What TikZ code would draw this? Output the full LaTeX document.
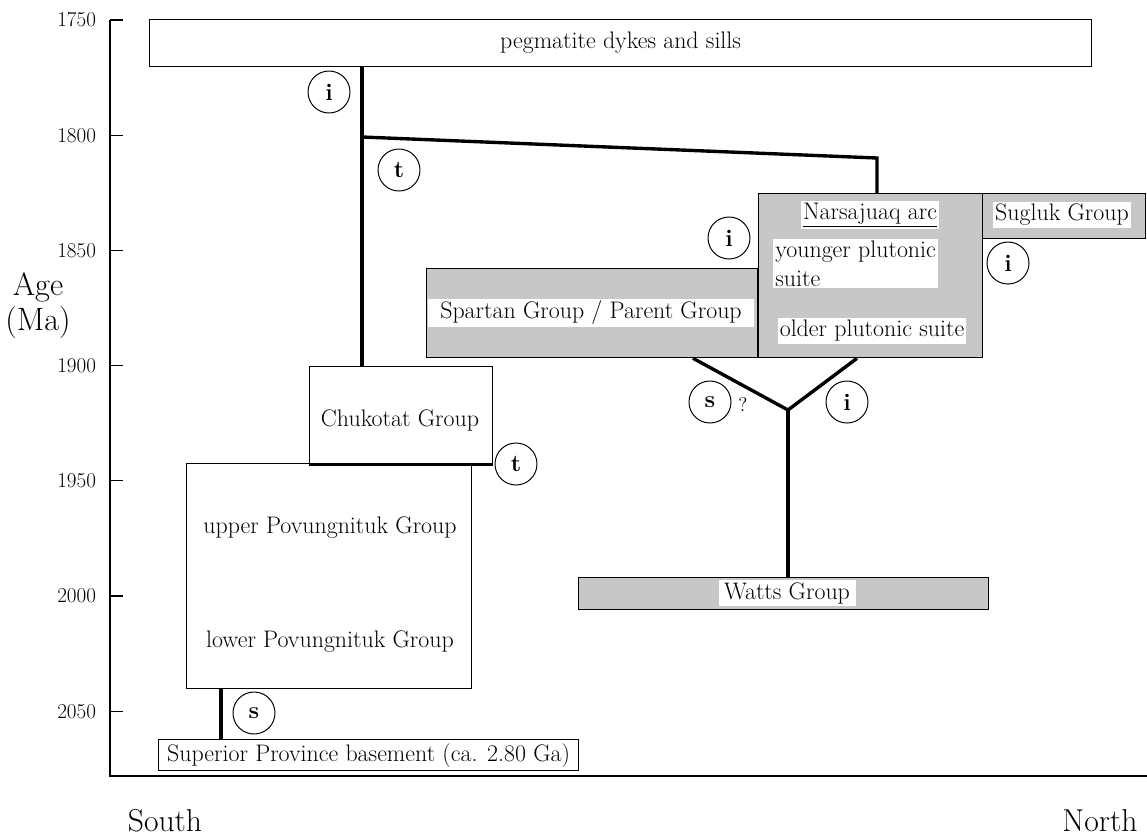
\documentclass[tikz,border=0pt]{standalone}
\usepackage{fontspec}
\usepackage{tikz}
\usetikzlibrary{
    calc,
    positioning
}
\definecolor{boxgray}{gray}{0.78}
\newcommand{\pxu}{0.025cm}

\begin{document}
\begin{tikzpicture}[x=\pxu, y=-\pxu,
    every node/.style={font=\fontsize{17}{20}\selectfont},
    thinline/.style={line width=0.9pt},
    thickline/.style={line width=2.4pt},
    unit/.style={draw, thinline, inner sep=0pt, anchor=north west},
    grayunit/.style={unit, fill=boxgray},
    band/.style={fill=white, inner sep=1.5pt},
    proc/.style={circle, draw, line width=0.7pt, minimum size=42*\pxu, inner sep=0pt,
                 font=\fontsize{17}{17}\selectfont\bfseries},
    ticklab/.style={anchor=east, font=\fontsize{15}{18}\selectfont},
    dirlab/.style={anchor=base, inner sep=0pt, font=\fontsize{22.5}{24}\selectfont}]
\useasboundingbox (0,0) rectangle (1147,837);

% Age axis
\coordinate (atop) at (110,20);
\coordinate (aorig) at (110,776);
\coordinate (aend) at (1147,776);
\draw[thinline] (atop) -- (aorig) -- (aend);
\foreach \k/\age in {0/1750,1/1800,2/1850,3/1900,4/1950,5/2000,6/2050} {
    \draw[thinline] (110,20+115.2*\k) -- (123,20+115.2*\k);
    \node[ticklab] (tick\age) at (101,20+115.2*\k) {\age};
}
\node[align=center, font=\fontsize{23}{25}\selectfont] (agelab) at (38,306) {Age\\(Ma)};
\node[dirlab] (south) at (165,831) {South};
\node[dirlab] (north) at (1100,831) {North};

% Units
\node[unit, minimum width=942*\pxu, minimum height=47*\pxu] (peg) at (149,19) {pegmatite dykes and sills};
\node[unit, minimum width=183*\pxu, minimum height=97*\pxu] (chuk) at (309,366) {};
\node (chuktxt) at (400,420) {Chukotat Group};
\node[unit, minimum width=285*\pxu, minimum height=225*\pxu] (pov) at (186,463) {};
\node (upov) at (330,528) {upper Povungnituk Group};
\node (lpov) at (330,642) {lower Povungnituk Group};
\node[unit, minimum width=420*\pxu, minimum height=31*\pxu] (base) at (158,739) {Superior Province basement (ca. 2.80 Ga)};

\node[grayunit, minimum width=331*\pxu, minimum height=89*\pxu] (spart) at (426,268) {};
\node[band, minimum width=326*\pxu, minimum height=27*\pxu] (sparttxt) at (591,313) {Spartan Group / Parent Group};
\node[grayunit, minimum width=224*\pxu, minimum height=164*\pxu] (nars) at (758,193) {};
\node[band] (narstxt) at (870,215) {\underline{Narsajuaq arc}};
\node[band, anchor=north west, align=left] (young) at (773,239) {younger plutonic\\suite};
\node[band] (older) at (872,331) {older plutonic suite};
\node[grayunit, minimum width=163*\pxu, minimum height=45*\pxu] (sug) at (982,193) {};
\node[band] (sugtxt) at (1062,215) {Sugluk Group};
\node[grayunit, minimum width=410*\pxu, minimum height=32*\pxu] (watts) at (578,577) {};
\node[band, minimum width=137*\pxu] (wattstxt) at (787,593) {Watts Group};

% Contacts
\coordinate (vx) at (362,0);
\coordinate (sA) at (362,137);
\coordinate (sB) at (877,158);
\coordinate (bx) at (221,0);
\coordinate (yL) at (693,0);
\coordinate (yR) at (857,0);
\coordinate (yjoin) at (788,410);
\draw[thickline] (peg.south -| vx) -- (chuk.north -| vx);
\draw[thickline] (sA) -- (sB) -- (sB |- nars.north);
\draw[thickline] (chuk.south west) -- (chuk.south east);
\draw[thickline] (pov.south -| bx) -- (base.north -| bx);
\draw[thickline] (spart.south -| yL) -- (yjoin) -- (nars.south -| yR);
\draw[thickline] (yjoin) -- (yjoin |- watts.north);

% Contact types
\node[proc] (iPeg) at (329,92) {i};
\node[proc] (tSlant) at (399,170) {t};
\node[proc] (iSpart) at (729,238) {i};
\node[proc] (iSug) at (1008,263) {i};
\node[proc] (tChuk) at (516,464) {t};
\node[proc] (sSpart) at (710,402) {s};
\node[font=\fontsize{14}{16}\selectfont] (qmark) at (743,405) {?};
\node[proc] (iNars) at (847,402) {i};
\node[proc] (sBase) at (254,713) {s};
\end{tikzpicture}
\end{document}
